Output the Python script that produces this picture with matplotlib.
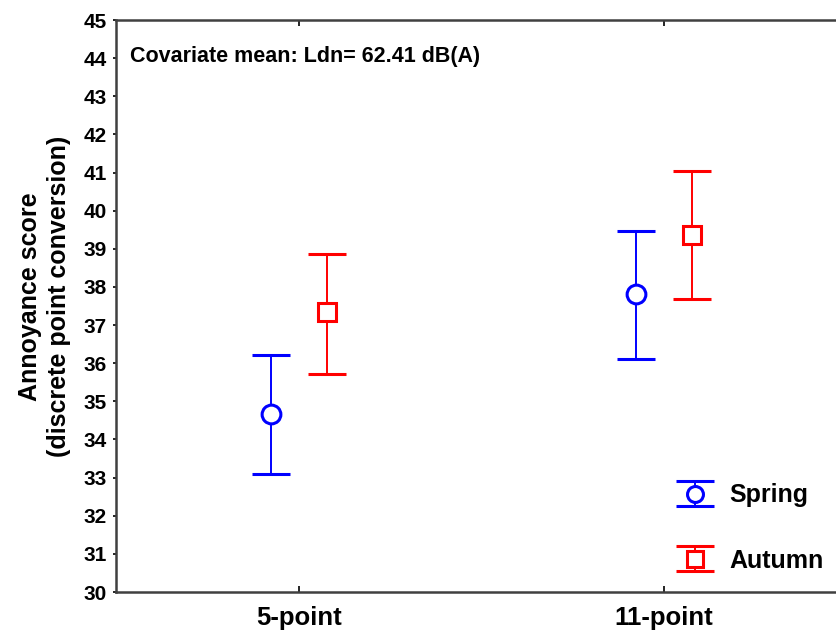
import numpy as np
import matplotlib
matplotlib.use("Agg")
import matplotlib.pyplot as plt

plt.rcParams['font.family'] = ['Liberation Sans', 'DejaVu Sans']
plt.rcParams['font.weight'] = 'bold'

categories = ["5-point", "11-point"]
spring_mean = [34.68, 37.82]
spring_low = [33.09, 36.11]
spring_high = [36.21, 39.47]
autumn_mean = [37.33, 39.36]
autumn_low = [35.72, 37.68]
autumn_high = [38.86, 41.04]

fig = plt.figure(figsize=(8.37, 6.31), dpi=100)
ax = fig.add_axes([116 / 837, 39 / 631, 731 / 837, 572 / 631])

x = np.arange(len(categories))
off = 0.076

def series(xs, mean, low, high, color, marker, label):
    mean = np.array(mean)
    err = [mean - np.array(low), np.array(high) - mean]
    return ax.errorbar(xs, mean, yerr=err, fmt=marker, color=color, ecolor=color,
                       mfc='white', mec=color, mew=2.2, ms=13.5, elinewidth=1.4,
                       capsize=14, capthick=1.4, label=label)

series(x - off, spring_mean, spring_low, spring_high, '#0000ff', 'o', 'Spring')
series(x + off, autumn_mean, autumn_low, autumn_high, '#ff0000', 's', 'Autumn')

ax.set_xlim(-0.5, 1.5)
ax.set_ylim(30, 45)
ax.set_yticks(np.arange(30, 46, 1))
ax.set_xticks(x)
ax.set_xticklabels(categories, fontsize=18.5, fontweight='bold')
ax.tick_params(axis='y', labelsize=15, direction='out', length=2.5, width=1.2, pad=4)
ax.tick_params(axis='x', direction='in', length=4, width=1.2, top=True, pad=10)
for lbl in ax.get_yticklabels():
    lbl.set_fontweight('bold')

for side in ['left', 'bottom', 'top']:
    ax.spines[side].set_color('#404040')
    ax.spines[side].set_linewidth(1.8)
ax.spines['right'].set_visible(False)

ax.set_ylabel("Annoyance score\n(discrete point conversion)", fontsize=18,
              fontweight='bold', linespacing=1.25)
ax.yaxis.set_label_coords(-0.062, 0.516)

ax.text(0.019, 0.937, "Covariate mean: Ldn= 62.41 dB(A)", transform=ax.transAxes,
        fontsize=15.5, fontweight='bold', va='center', ha='left')

leg = ax.legend(loc='upper left', bbox_to_anchor=(0.767, 0.19), frameon=False,
                fontsize=18, handlelength=1.5, labelspacing=1.65, handletextpad=0.6,
                borderpad=0, borderaxespad=0, markerscale=0.85)
for t in leg.get_texts():
    t.set_fontweight('bold')

fig.savefig("out.png", dpi=100)
